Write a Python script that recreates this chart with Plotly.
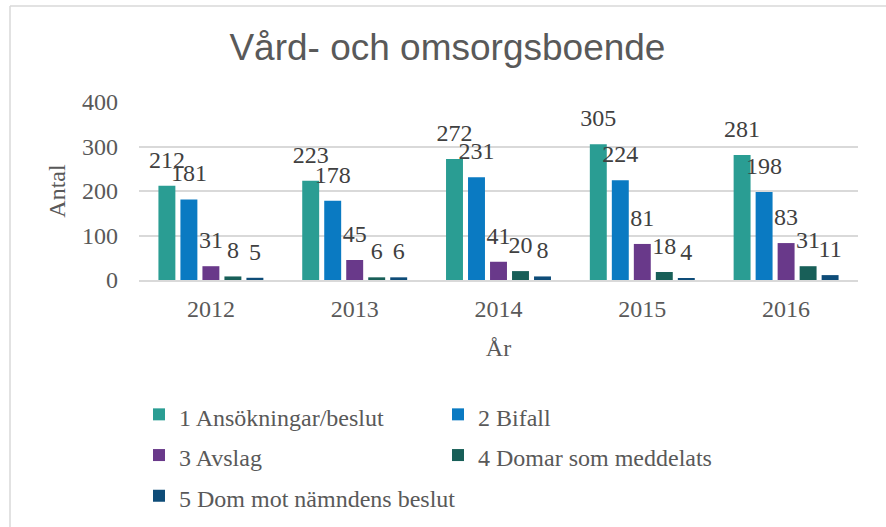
import plotly.graph_objects as go

years = ["2012", "2013", "2014", "2015", "2016"]
series_names = [
    "1 Ansökningar/beslut",
    "2 Bifall",
    "3 Avslag",
    "4 Domar som meddelats",
    "5 Dom mot nämndens beslut",
]
ansokningar = [212, 223, 272, 305, 281]
bifall = [181, 178, 231, 224, 198]
avslag = [31, 45, 41, 81, 83]
domar = [8, 6, 20, 18, 31]
dom_mot = [5, 6, 8, 4, 11]
y_ticks = [0, 100, 200, 300, 400]

series_values = [ansokningar, bifall, avslag, domar, dom_mot]
colors = ["#2A9D93", "#0A7AC2", "#69398A", "#185F58", "#0E4C78"]

SERIF = "Liberation Serif, Times New Roman, serif"
SANS = "Liberation Sans, Arial, sans-serif"
GREY = "#595959"
FS = 24

fig = go.Figure()
for name, vals, col in zip(series_names, series_values, colors):
    fig.add_trace(go.Bar(
        x=years, y=vals,
        name=f"<span style='font-size:{FS}px'>" + name + "</span>",
        marker=dict(color=col, line=dict(width=0)),
        texttemplate=f"<span style='font-size:{FS}px'>%{{y}}</span><br><span style='color:rgba(0,0,0,0)'>.</span>",
        textposition="outside",
        textangle=0,
        constraintext="none",
        cliponaxis=False,
        textfont=dict(family=SERIF, size=10, color="#404040"),
        hoverinfo="skip",
    ))

fig.update_layout(
    width=886, height=527,
    barmode="group", bargap=0.235, bargroupgap=0.23,
    plot_bgcolor="white", paper_bgcolor="white",
    margin=dict(l=139, r=28, t=102, b=247),
    title=dict(text="Vård- och omsorgsboende", x=0.505, xref="container", xanchor="center",
               y=1 - 47 / 527, yref="container", yanchor="middle",
               font=dict(family=SANS, size=37, color=GREY)),
    xaxis=dict(showgrid=False, showline=True, linecolor="#D9D9D9", linewidth=1.5,
               ticks="", ticklabelstandoff=6,
               tickfont=dict(family=SERIF, size=FS, color=GREY),
               title=dict(text="År", standoff=19, font=dict(family=SERIF, size=FS, color=GREY))),
    yaxis=dict(range=[0, 400], tickvals=y_ticks, showgrid=True, gridcolor="#D9D9D9", gridwidth=1.5,
               zeroline=False, showline=False, ticks="", ticklabelstandoff=20,
               tickfont=dict(family=SERIF, size=FS, color=GREY),
               title=dict(text="Antal", standoff=9, font=dict(family=SERIF, size=FS, color=GREY))),
    legend=dict(orientation="h", x=0.0, xanchor="left",
                y=1 - 389 / 527, yref="container", yanchor="top",
                entrywidth=254, entrywidthmode="pixels",
                font=dict(family=SERIF, size=29, color=GREY), traceorder="normal"),
    showlegend=True,
)

fig.add_shape(type="line", xref="paper", yref="paper",
              x0=(10 - 139) / 719, x1=(900 - 139) / 719,
              y0=(280 - 6) / 178, y1=(280 - 6) / 178,
              line=dict(color="#D9D9D9", width=1.5))
fig.add_shape(type="line", xref="paper", yref="paper",
              x0=(10 - 139) / 719, x1=(10 - 139) / 719,
              y0=(280 - 6) / 178, y1=(280 - 540) / 178,
              line=dict(color="#D9D9D9", width=1.5))

fig.write_html("out.html", config={"displayModeBar": False},
               post_script="document.body.style.margin='0';document.body.style.overflow='hidden';")
